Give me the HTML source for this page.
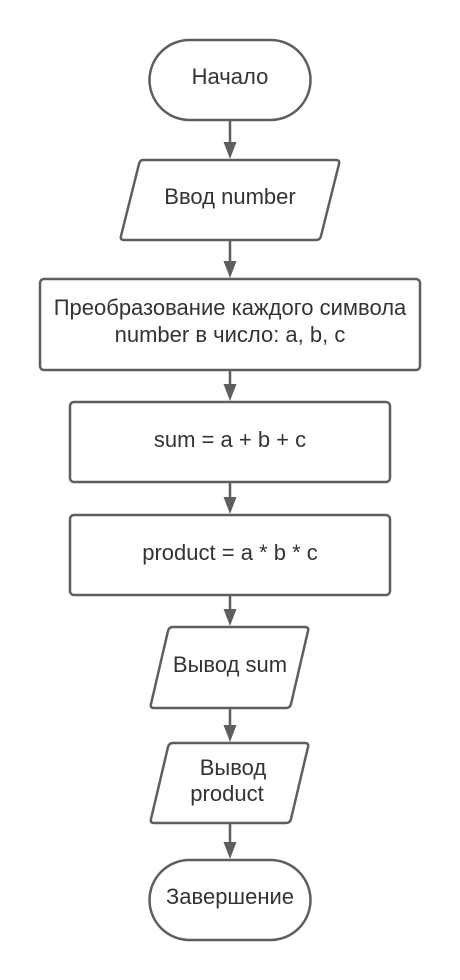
<!DOCTYPE html>
<html><head><meta charset="utf-8"><style>
html,body{margin:0;padding:0;background:#fff;}
svg{display:block;}
text{font-family:"Liberation Sans","DejaVu Sans",sans-serif;font-size:22px;fill:#333;text-anchor:middle;}
</style></head><body>
<svg width="460" height="980" viewBox="0 0 460 980" xmlns="http://www.w3.org/2000/svg">
<g fill="#fff" stroke="#5e5e5e" stroke-width="2.5" stroke-linejoin="round">
<rect x="149.5" y="40" width="161" height="80" rx="40" ry="40"/>
<path d="M143,160 L336,160 Q340,160 339,164 L321,236 Q320,240 316,240 L124,240 Q120,240 121,236 L139,164 Q140,160 143,160 Z"/>
<rect x="40" y="279" width="380" height="91" rx="4"/>
<rect x="70" y="402" width="320" height="80" rx="4"/>
<rect x="70" y="515" width="320" height="80" rx="4"/>
<path d="M173,627 L305,627 Q309,627 308,631 L291,704 Q290,708 286,708 L154,708 Q150,708 151,704 L168,631 Q169,627 173,627 Z"/>
<path d="M173,743 L305,743 Q309,743 308,747 L291,819 Q290,823 286,823 L154,823 Q150,823 151,819 L168,747 Q169,743 173,743 Z"/>
<rect x="149.5" y="860" width="161" height="80" rx="40" ry="40"/>
</g>
<g stroke="#5e5e5e" stroke-width="2.5">
<line x1="230" y1="121" x2="230" y2="145"/>
<line x1="230" y1="241" x2="230" y2="264"/>
<line x1="230" y1="371" x2="230" y2="387"/>
<line x1="230" y1="483" x2="230" y2="500"/>
<line x1="230" y1="596" x2="230" y2="612"/>
<line x1="230" y1="709" x2="230" y2="728"/>
<line x1="230" y1="824" x2="230" y2="845"/>
</g>
<g fill="#5e5e5e">
<path d="M223.5,142 L236.5,142 L230,159 Z"/>
<path d="M223.5,261 L236.5,261 L230,278 Z"/>
<path d="M223.5,384 L236.5,384 L230,401 Z"/>
<path d="M223.5,497 L236.5,497 L230,514 Z"/>
<path d="M223.5,609 L236.5,609 L230,626 Z"/>
<path d="M223.5,725 L236.5,725 L230,742 Z"/>
<path d="M223.5,842 L236.5,842 L230,859 Z"/>
</g>
<text x="230" y="84">Начало</text>
<text x="230" y="204">Ввод number</text>
<text x="230" y="315">Преобразование каждого символа</text>
<text x="230" y="342">number в число: a, b, c</text>
<text x="230" y="447">sum = a + b + c</text>
<text x="230" y="560">product = a * b * c</text>
<text x="230" y="672">Вывод sum</text>
<text x="233" y="775">Вывод</text>
<text x="227" y="801">product</text>
<text x="230" y="904">Завершение</text>
</svg>
</body></html>
